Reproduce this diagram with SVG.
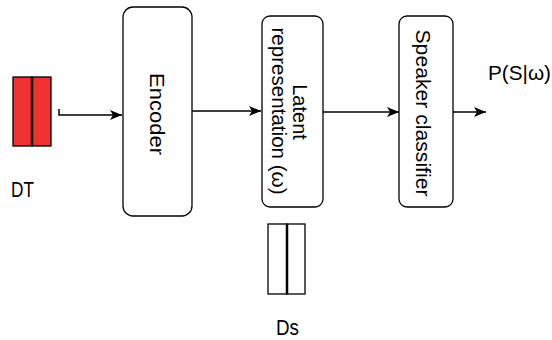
<svg xmlns="http://www.w3.org/2000/svg" width="552" height="340" viewBox="0 0 552 340">
<style>
.box{fill:#fff;stroke:#000;stroke-width:1.3}
.lbl{font-family:"Liberation Sans",Arial,sans-serif;font-size:20px;fill:#000;text-anchor:middle;dominant-baseline:central}
.edge{fill:none;stroke:#000;stroke-width:1.5}
.t{font-family:"Liberation Sans",Arial,sans-serif;font-size:22px;fill:#000}
</style>
<defs>
<marker id="ah" viewBox="0 0 12 10" refX="12" refY="5" markerWidth="12" markerHeight="10" markerUnits="userSpaceOnUse" orient="auto">
<path d="M0,0 L12,5 L0,10 L3,5 Z" fill="#000"/>
</marker>
</defs>
<rect width="552" height="340" fill="#fff"/>
<g id="dt">
<rect x="13" y="77" width="19" height="69" fill="#f03232" stroke="#000" stroke-width="1.3"/>
<rect x="32" y="77" width="19" height="69" fill="#f03232" stroke="#000" stroke-width="1.3"/>
<line x1="32" y1="77" x2="32" y2="146" stroke="#000" stroke-width="2.5"/>
<text class="t" x="11" y="197" textLength="23" lengthAdjust="spacingAndGlyphs">DT</text>
</g>
<g id="encoder">
<rect class="box" x="123" y="7" width="69" height="209" rx="10"/>
<text class="lbl" transform="translate(157,114) rotate(90)" textLength="82" lengthAdjust="spacingAndGlyphs">Encoder</text>
</g>
<g id="latent">
<rect class="box" x="262" y="16" width="61" height="191" rx="8"/>
<text class="lbl" transform="translate(300,112) rotate(90)">Latent</text>
<text class="lbl" transform="translate(279,111) rotate(90)" textLength="167" lengthAdjust="spacingAndGlyphs">representation (ω)</text>
</g>
<g id="speaker">
<rect class="box" x="399" y="16" width="54" height="191" rx="8"/>
<text class="lbl" transform="translate(423,113) rotate(90)" textLength="167" lengthAdjust="spacingAndGlyphs">Speaker classifier</text>
</g>
<g id="ds">
<rect x="268" y="224" width="19" height="70" fill="#fff" stroke="#000" stroke-width="1.3"/>
<rect x="287" y="224" width="18" height="70" fill="#fff" stroke="#000" stroke-width="1.3"/>
<line x1="287" y1="224" x2="287" y2="294" stroke="#000" stroke-width="2.5"/>
<text class="t" x="276" y="335" textLength="23" lengthAdjust="spacingAndGlyphs">Ds</text>
</g>
<g id="output">
<text class="t" x="488" y="80" textLength="63" lengthAdjust="spacingAndGlyphs" style="font-size:20px">P(S|ω)</text>
</g>
<g id="connectors">
<path class="edge" d="M59,109 L59,115 L122,115" marker-end="url(#ah)"/>
<path class="edge" d="M192,111 L261,111" marker-end="url(#ah)"/>
<path class="edge" d="M323,112 L399,112" marker-end="url(#ah)"/>
<path class="edge" d="M453,112 L486,112" marker-end="url(#ah)"/>
</g>
</svg>
